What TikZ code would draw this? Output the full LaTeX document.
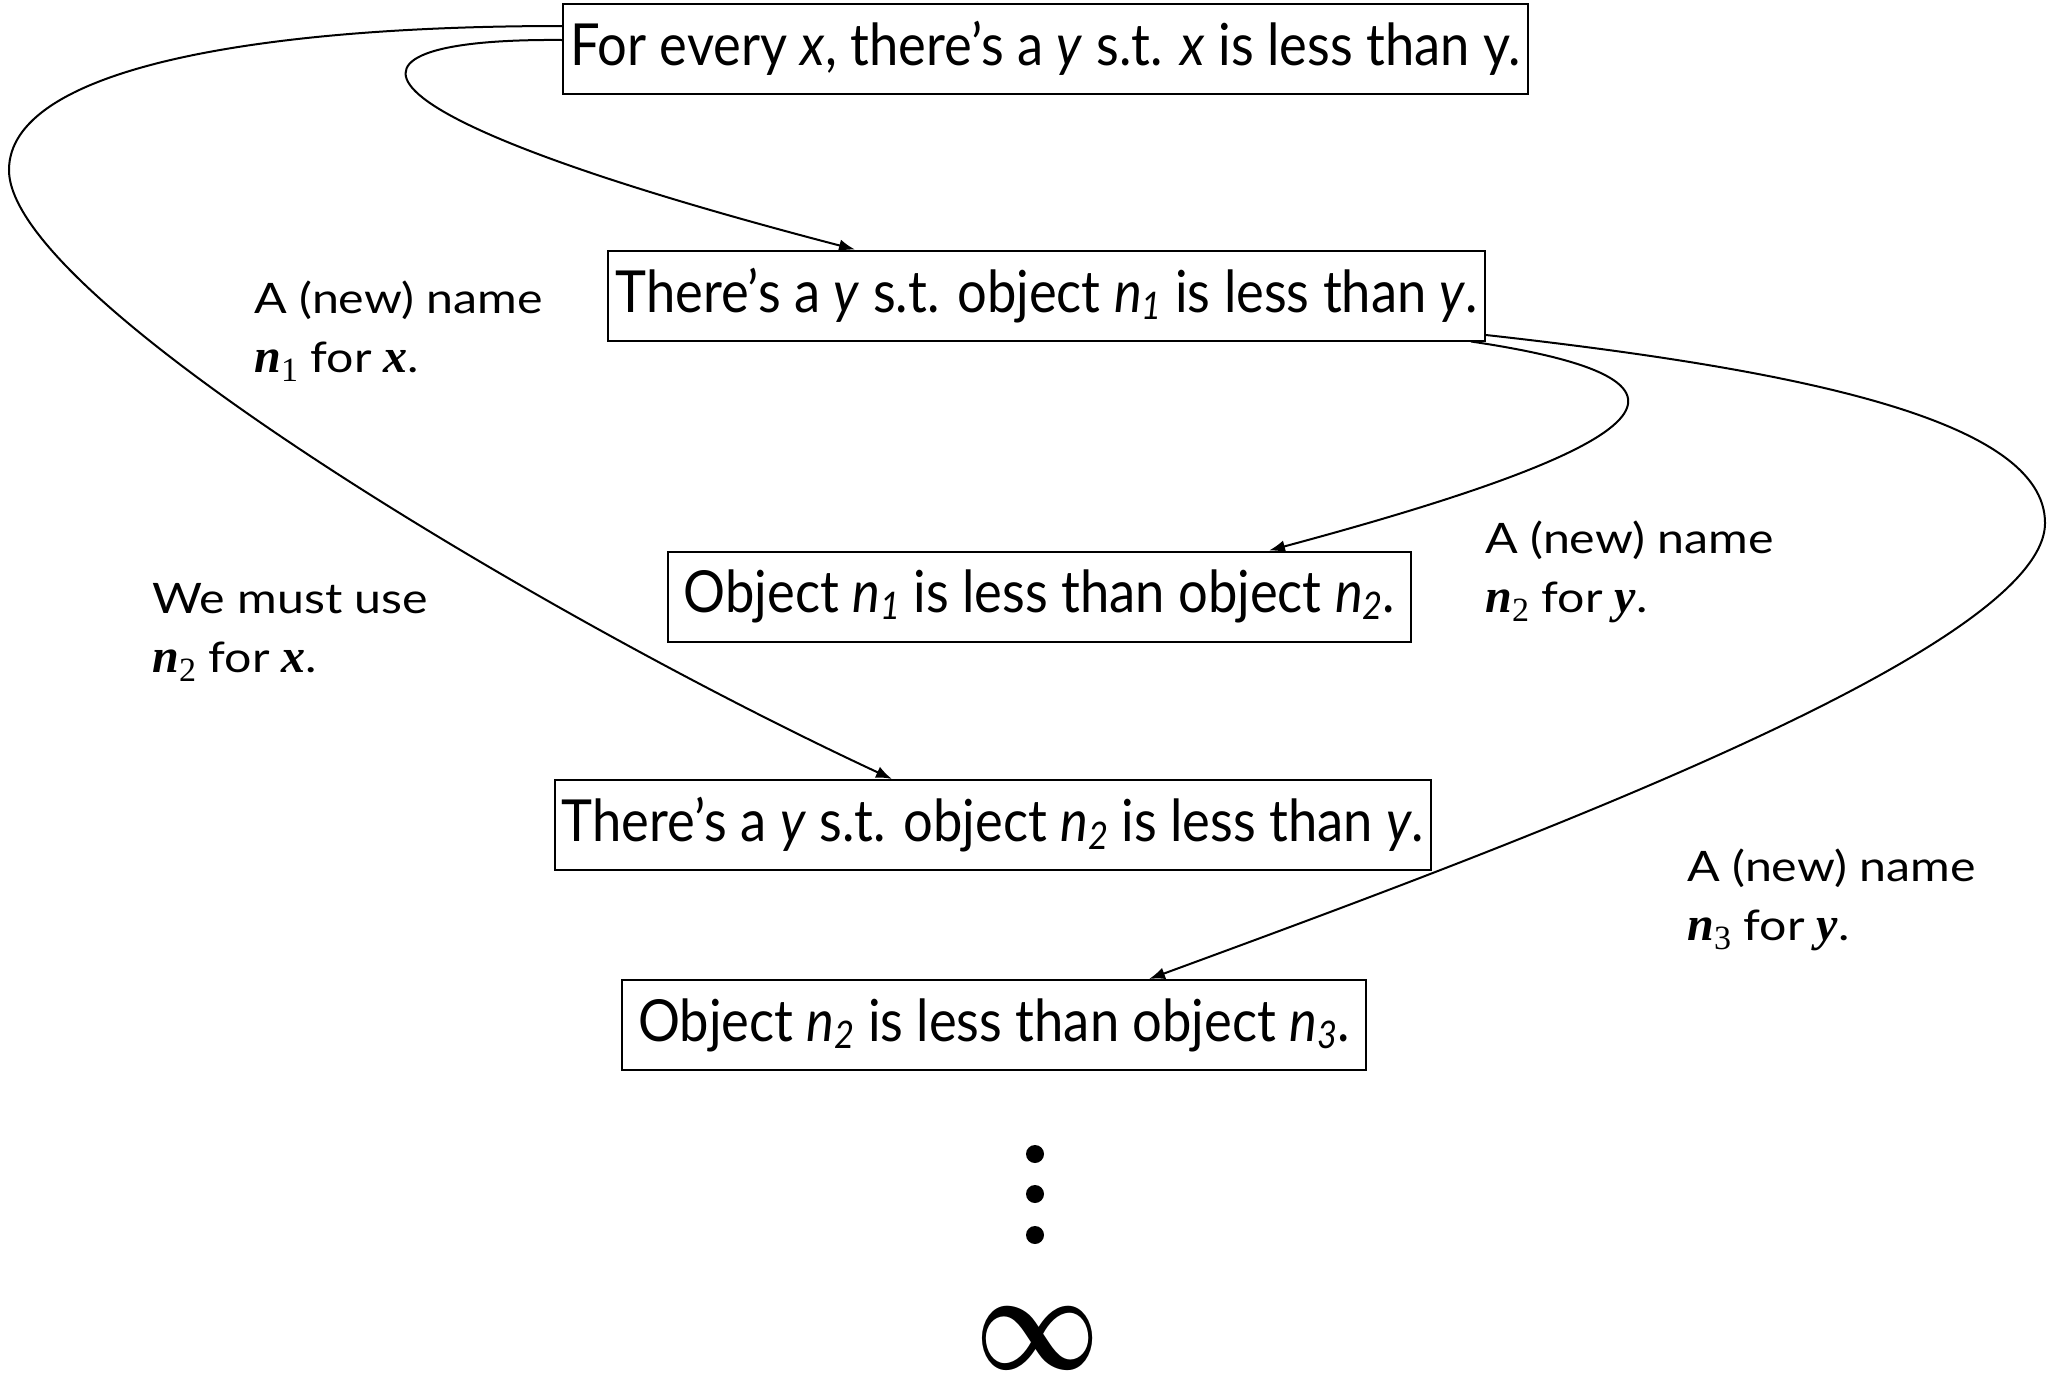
\documentclass[tikz,border=0pt]{standalone}
\usepackage{fontspec}
\usepackage{graphicx}
\usetikzlibrary{arrows.meta}
\setmainfont{Lato}
\newfontfamily\boxfont{Lato}[FakeStretch=0.905]
\newfontfamily\labfont{Lato}[FakeStretch=1.15]
\newfontfamily\serif{Liberation Serif}
\newcommand{\sn}[1]{{\serif\fontsize{24}{24}\selectfont\bfseries\itshape n}\raisebox{-0.45ex}{\serif\fontsize{17}{17}\selectfont #1}}
\newcommand{\sv}[1]{{\serif\fontsize{24}{24}\selectfont\bfseries\itshape #1}}
\newcommand{\bn}[1]{\textit{n}\raisebox{-0.25ex}{\fontsize{19}{19}\selectfont\textit{#1}}}
\begin{document}
\begin{tikzpicture}[x=0.5pt,y=-0.5pt,
  stmt/.style={draw,line width=1pt,inner sep=0pt,minimum height=45pt,font=\boxfont\fontsize{29}{34}\selectfont},
  lab/.style={align=left,anchor=base west,inner sep=0pt,font=\labfont\fontsize{21}{29.5}\selectfont},
  conn/.style={line width=1pt,-{Latex[length=8pt,width=6pt]}},
  dotn/.style={circle,fill,inner sep=0pt,minimum size=9pt}]
\useasboundingbox (0,0) rectangle (2049,1377);
\node[stmt,minimum width=482.5pt] (s1) at (1045.5,48.5) {For every \textit{x}, there’s a \textit{y} s.t. \textit{x} is less than y.};
\node[stmt,minimum width=438.5pt] (s2) at (1046.5,295.5) {There’s a \textit{y} s.t. object \bn{1}\ is less than \textit{y}.};
\node[stmt,minimum width=371.5pt] (s3) at (1039.5,596.5) {Object \bn{1}\ is less than object \bn{2}.};
\node[stmt,minimum width=438pt] (s4) at (993,825) {There’s a \textit{y} s.t. object \bn{2} is less than \textit{y}.};
\node[stmt,minimum width=372pt] (s5) at (994,1025) {Object \bn{2} is less than object \bn{3}.};
\node[lab] (l1) at (254,372) {A (new) name\\\sn{1} for \sv{x}.};
\node[lab] (l2) at (152,672) {We must use\\\sn{2} for \sv{x}.};
\node[lab] (l3) at (1485,612) {A (new) name\\\sn{2} for \sv{y}.};
\node[lab] (l4) at (1687,940) {A (new) name\\\sn{3} for \sv{y}.};
\node[dotn] (d1) at (1035,1154) {};
\node[dotn] (d2) at (1035,1194) {};
\node[dotn] (d3) at (1035,1235) {};
\node (inf) at (1038,1338) {\scalebox{5.4}[7]{\boldmath$\infty$}};
\draw[conn] ([yshift=4.25pt]s1.west) .. controls (320,38) and (320,110) .. ([xshift=124pt]s2.north west);
\draw[conn] ([yshift=11.25pt]s1.west) .. controls (250,26) and (9,70) .. (9,170) .. controls (9,300) and (550,620) .. ([xshift=169pt]s4.north west);
\draw[conn] ([xshift=-7.5pt]s2.south east) .. controls (1730,380) and (1670,443) .. ([xshift=301pt]s3.north west);
\draw[conn] ([yshift=-19.75pt]s2.east) .. controls (1800,370) and (2045,420) .. (2045,523) .. controls (2045,650) and (1500,850) .. ([xshift=264pt]s5.north west);
\end{tikzpicture}
\end{document}
